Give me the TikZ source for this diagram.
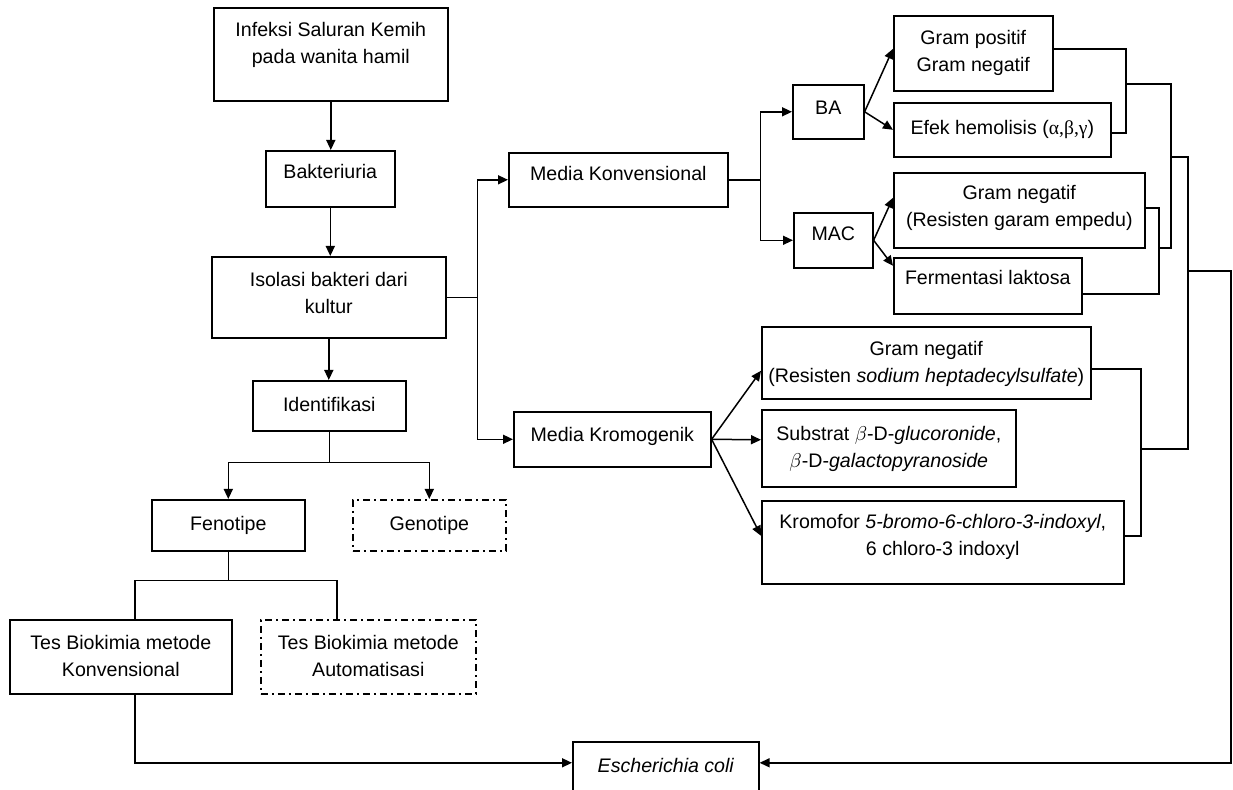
\documentclass[tikz,border=0pt]{standalone}
\usepackage{fontspec}
\setmainfont{Liberation Sans}
\newfontfamily\grkfont{Liberation Serif}
\usetikzlibrary{positioning,arrows.meta}

\begin{document}
\begin{tikzpicture}[x=0.5pt,y=-0.5pt,
  box/.style={draw, line width=0.8pt, inner sep=0pt, anchor=north west,
    align=center, font=\fontsize{9.8}{13.5}\selectfont},
  dbox/.style={box, dash pattern=on 3.5pt off 2pt on 1pt off 2pt},
  arr/.style={line width=0.75pt, -{Triangle[length=5pt,width=4.5pt]}},
  link/.style={line width=0.75pt}]
  \useasboundingbox (0,0) rectangle (1233,790);
  \clip (0,0) rectangle (1233,790);

  \node[box, minimum width=117pt, text height=28pt, text depth=18.5pt] (infeksi) at (213,7)
    {Infeksi Saluran Kemih\\pada wanita hamil};
  \node[box, minimum width=64.5pt, text height=14pt, text depth=14pt] (bakteri) at (265,150)
    {Bakteriuria};
  \node[box, minimum width=117pt, text height=28.5pt, text depth=12pt] (isolasi) at (211,256)
    {Isolasi bakteri dari\\kultur};
  \node[box, minimum width=76.5pt, text height=15.5pt, text depth=9.5pt] (ident) at (252,380)
    {Identifikasi};
  \node[box, minimum width=76.5pt, text height=15.5pt, text depth=10pt] (fenotipe) at (151,499)
    {Fenotipe};
  \node[dbox, minimum width=76.5pt, text height=15.5pt, text depth=10pt] (genotipe) at (352,499)
    {Genotipe};
  \node[box, minimum width=111pt, text height=28.5pt, text depth=8.5pt] (tesk) at (9,619)
    {Tes Biokimia metode\\Konvensional};
  \node[dbox, minimum width=107.5pt, text height=28.5pt, text depth=8.5pt] (tesa) at (260,619)
    {Tes Biokimia metode\\Automatisasi};
  \node[box, minimum width=93pt, text height=15.5pt, text depth=14pt] (ecoli) at (572,741)
    {\itshape Escherichia coli};

  \node[box, minimum width=109.5pt, text height=14pt, text depth=13pt] (mkonv) at (508,152)
    {Media Konvensional};
  \node[box, minimum width=98.5pt, text height=15pt, text depth=12.5pt] (mkrom) at (513,411)
    {Media Kromogenik};
  \node[box, minimum width=35.5pt, text height=15pt, text depth=12pt] (ba) at (792,84) {BA};
  \node[box, minimum width=39.5pt, text height=14pt, text depth=13.5pt] (mac) at (793,212) {MAC};
  \node[box, minimum width=79.5pt, text height=28pt, text depth=9.5pt] (grampos) at (893,15)
    {Gram positif\\Gram negatif};
  \node[box, minimum width=108.5pt, text height=16pt, text depth=11pt] (efek) at (893,102)
    {Efek hemolisis ({\grkfont α,β,γ})};
  \node[box, minimum width=125.5pt, text height=27pt, text depth=10.5pt] (gramneg) at (893,172)
    {Gram negatif\\(Resisten garam empedu)};
  \node[box, minimum width=94pt, text height=13.5pt, text depth=14.5pt] (ferm) at (893,257)
    {Fermentasi laktosa};
  \node[box, minimum width=164.5pt, text height=28pt, text depth=8pt] (sodium) at (761,326)
    {Gram negatif\\(Resisten \textit{sodium heptadecylsulfate})};
  \node[box, minimum width=127pt, text height=29pt, text depth=9.5pt] (substrat) at (761,409)
    {Substrat $\beta$-D-\textit{glucoronide},\\$\beta$-D-\textit{galactopyranoside}};
  \node[box, minimum width=181pt, text height=27.5pt, text depth=14pt] (kromofor) at (761,500)
    {Kromofor \textit{5-bromo-6-chloro-3-indoxyl},\\6 chloro-3 indoxyl};

  \draw[arr] (infeksi.south) -- (infeksi.south |- bakteri.north);
  \draw[arr] (bakteri.south) -- (bakteri.south |- isolasi.north);
  \draw[arr] (isolasi.south) -- (isolasi.south |- ident.north);
  \draw[arr] (ident.south) -- ++(0,31) -| (fenotipe.north);
  \draw[arr] (ident.south) -- ++(0,31) -| (genotipe.north);
  \draw[link] (fenotipe.south) -- ++(0,29) -| ([xshift=7pt]tesk.north);
  \draw[link] (fenotipe.south) -- ++(0,29) -| ([xshift=-15.75pt]tesa.north);
  \draw[arr] ([xshift=7pt]tesk.south) |- ([yshift=4.25pt]ecoli.west);

  \draw[arr] (isolasi.east) -- ++(31,0) |- (mkonv.west);
  \draw[arr] (isolasi.east) -- ++(31,0) |- (mkrom.west);
  \draw[arr] (mkonv.east) -- ++(32,0) |- (ba.west);
  \draw[arr] (mkonv.east) -- ++(32,0) |- (mac.west);
  \draw[arr] (ba.east) -- ([yshift=2.25pt]grampos.west);
  \draw[arr] (ba.east) -- (efek.west);
  \draw[arr] (mac.east) -- ([yshift=6.25pt]gramneg.west);
  \draw[arr] (mac.east) -- ([yshift=10pt]ferm.west);
  \draw[arr] (mkrom.east) -- ([yshift=-4pt]sodium.west);
  \draw[arr] (mkrom.east) -- ([yshift=4.25pt]substrat.west);
  \draw[arr] (mkrom.east) -- ([yshift=3.25pt]kromofor.west);

  \coordinate (jba) at (1126,84);
  \coordinate (jmac) at (1159,248);
  \coordinate (jkonv) at (1171,157);
  \coordinate (jkrom) at (1141,449);
  \coordinate (jall) at (1188,271);
  \coordinate (jend) at (1231,271);
  \draw[link] ([yshift=2.25pt]grampos.east) -| (jba) |- ([yshift=-1.5pt]efek.east);
  \draw[link] ([yshift=1.25pt]gramneg.east) -| (jmac) |- ([yshift=-4pt]ferm.east);
  \draw[link] ([yshift=-3pt]sodium.east) -| (jkrom) |- ([yshift=3.25pt]kromofor.east);
  \draw[link] (jba) -| (jkonv) |- (jmac);
  \draw[link] (jkonv) -| (jall) |- (jkrom);
  \draw[arr] (jall) -- (jend) |- ([yshift=4.25pt]ecoli.east);
\end{tikzpicture}
\end{document}
